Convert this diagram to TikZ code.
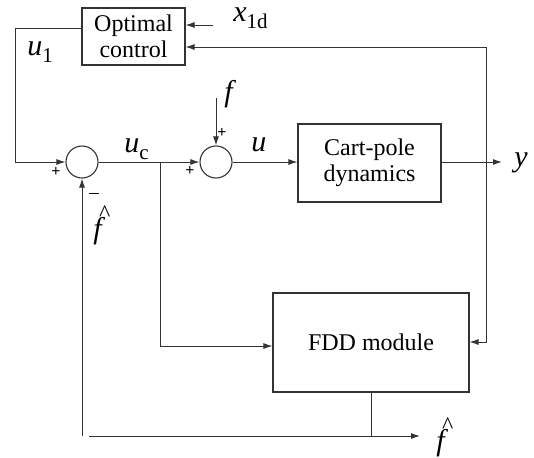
\documentclass[tikz,border=0pt]{standalone}
\usepackage{fontspec}
\setmainfont{LiberationSerif}[Extension=.ttf, UprightFont=*-Regular, ItalicFont=*-Italic, BoldFont=*-Bold, BoldItalicFont=*-BoldItalic]
\usetikzlibrary{arrows.meta}
\newcommand\mysub[1]{\raisebox{-3.6pt}{\fontsize{10.5}{10.5}\selectfont #1}}
\newcommand\fh{\makebox[0pt][l]{\hspace{2.8pt}\raisebox{8.4pt}{\fontsize{12}{12}\selectfont\textasciicircum}}\textit{f}}
\begin{document}
\begin{tikzpicture}[x=0.5pt,y=-0.5pt,
  ln/.style={draw=black!80, line width=0.5pt},
  arr/.style={ln,-{Latex[length=4.5pt,width=3pt]}},
  blk/.style={draw=black!80, line width=0.55pt, inner sep=0pt, align=center,
    font=\fontsize{12}{12.8}\selectfont},
  sumc/.style={draw=black!80, line width=0.55pt, circle, minimum size=16pt, inner sep=0pt},
  lbl/.style={inner sep=0pt, anchor=base west, font=\fontsize{15}{15}\selectfont},
  sgn/.style={inner sep=0pt, font=\fontsize{8}{8}\selectfont\bfseries}]
\useasboundingbox (0,0) rectangle (534,457);
% blocks
\node[blk, minimum width=51.5pt, minimum height=28.5pt] (opt) at (133.5,36.5) {Optimal\\control};
\node[blk, minimum width=71.5pt, minimum height=39pt] (cp) at (369.5,163) {Cart-pole\\dynamics};
\node[blk, minimum width=98pt, minimum height=49.5pt] (fdd) at (371,342.5) {FDD module};
\node[sumc] (s1) at (82,162) {};
\node[sumc] (s2) at (216,162) {};
% labels
\node[lbl] (x1d) at (233,21) {\textit{x}\mysub{1d}};
\node[lbl] (u1) at (27,55) {\textit{u}\mysub{1}};
\node[lbl] (uc) at (124,152) {\textit{u}\mysub{c}};
\node[lbl] (uu) at (251,151) {\textit{u}};
\node[lbl] (ff) at (224,101) {\textit{f}};
\node[lbl] (yy) at (514,166) {\textit{y}};
\node[lbl] (fh1) at (93,238) {\fh};
\node[lbl] (fh2) at (436,450) {\fh};
\node[sgn] (p1) at (56,172) {+};
\node[sgn] (m1) at (94,193) {\rule{5pt}{0.5pt}};
\node[sgn] (p2) at (190,171) {+};
\node[sgn] (p3) at (222,133) {+};
% coordinates
\coordinate (x1dt) at (213,25);
\coordinate (u1a) at (15,28);
\coordinate (u1b) at (15,162);
\coordinate (ft) at (216,98);
\coordinate (br) at (160,162);
\coordinate (brd) at (160,346);
\coordinate (yb) at (486,162);
\coordinate (yt) at (486,47);
\coordinate (yd) at (486,342);
\coordinate (ye) at (502,162);
\coordinate (fb) at (371,436);
\coordinate (hs) at (89,436);
\coordinate (he) at (420,436);
\coordinate (vb) at (82,436);
% connectors
\draw[arr] (x1dt) -- (opt.east |- x1dt);
\draw[arr] (yb) -- (yt) -- (opt.east |- yt);
\draw[arr] (opt.west |- u1a) -- (u1a) -- (u1b) -- (s1.west);
\draw[arr] (s1.east) -- (s2.west);
\draw[arr] (ft) -- (s2.north);
\draw[arr] (s2.east) -- (cp.west |- s2.east);
\draw[arr] (cp.east |- ye) -- (ye);
\draw[arr] (br) -- (brd) -- (fdd.west |- brd);
\draw[arr] (yb) -- (yd) -- (fdd.east |- yd);
\draw[ln] (fdd.south) -- (fb);
\draw[arr] (hs) -- (he);
\draw[arr] (vb) -- (s1.south);
\end{tikzpicture}
\end{document}
